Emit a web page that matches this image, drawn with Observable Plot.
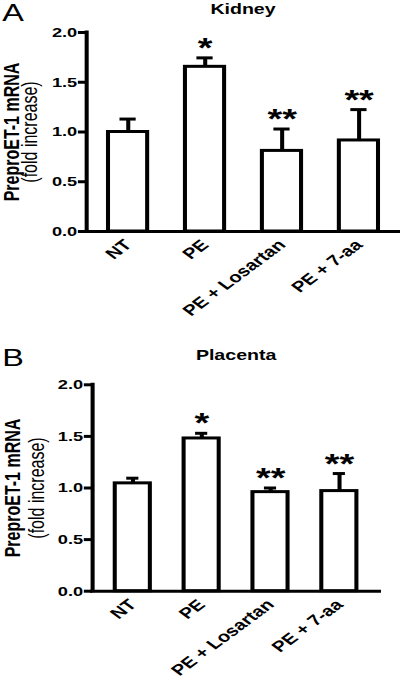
<!DOCTYPE html>
<html><head><meta charset="utf-8">
<script src="https://cdn.jsdelivr.net/npm/d3@7"></script>
<script src="https://cdn.jsdelivr.net/npm/@observablehq/plot@0.6"></script>
<style>
html,body{margin:0;padding:0;background:#fff;}
#chart{width:400px;}
#chart svg{display:block;}
</style></head><body><div id="chart"></div>
<script>
const groups = ["NT", "PE", "PE + Losartan", "PE + 7-aa"];
const kidneyMean = [1.00, 1.655, 0.81, 0.915];
const kidneySem = [0.13, 0.09, 0.22, 0.31];
const placentaMean = [1.045, 1.48, 0.96, 0.97];
const placentaSem = [0.05, 0.05, 0.04, 0.17];
const stars = ["", "*", "**", "**"];
const yTicks = [0, 0.5, 1.0, 1.5, 2.0];
const yTitle = "PreproET-1 mRNA";
const ySubtitle = "(fold increase)";

const FONT = "'Liberation Sans', Arial, Helvetica, sans-serif";
const K = 1.35;          // horizontal stretch of the original figure
const W = 400 / K;
const H = 340;

const panels = [
  {letter: "A", title: "Kidney", mean: kidneyMean, sem: kidneySem,
   ml: 63.7, mr: 1, mt: 32, mb: 109, po: 0.25,
   letterY: 20.7, titleY: 13.3, boldX: 13.5, regX: 27.2},
  {letter: "B", title: "Placenta", mean: placentaMean, sem: placentaSem,
   ml: 68.1, mr: 15.6, mt: 44.3, mb: 89.3, po: 0.3,
   letterY: 25, titleY: 19.3, boldX: 14.6, regX: 31.8}
];

const root = document.getElementById("chart");
for (const p of panels) {
  const data = groups.map((g, i) => ({group: g, mean: p.mean[i], upper: p.mean[i] + p.sem[i], star: stars[i]}));
  const frameW = W - p.ml - p.mr;
  const svg = Plot.plot({
    width: W, height: H,
    marginLeft: p.ml, marginRight: p.mr, marginTop: p.mt, marginBottom: p.mb,
    style: {fontFamily: FONT, color: "black", background: "white"},
    x: {domain: groups, paddingInner: 0.5, paddingOuter: p.po, axis: null},
    y: {domain: [0, 2], axis: null},
    marks: [
      Plot.ruleX(data, {x: "group", y1: "mean", y2: "upper", stroke: "black", strokeWidth: 3}),
      Plot.tickY(data, {x: "group", y: "upper", stroke: "black", strokeWidth: 3, insetLeft: 8.5, insetRight: 8.5}),
      Plot.barY(data, {x: "group", y: "mean", fill: "white", stroke: "black", strokeWidth: 3}),
      Plot.ruleY([0], {stroke: "black", strokeWidth: 3, strokeLinecap: "square"}),
      // y axis line at the left edge of the frame
      Plot.ruleX([0], {x: null, y1: 0, y2: 2, dx: -frameW / 2, stroke: "black", strokeWidth: 3, strokeLinecap: "square"}),
      Plot.axisY({ticks: yTicks, tickFormat: d3.format(".1f"), tickSize: 6, tickPadding: 1,
                  strokeWidth: 3, label: null, fontSize: 13.5, fontWeight: "bold"}),
      Plot.axisX({tickSize: 0, tickPadding: 11, tickRotate: -45, label: null,
                  fontSize: 15, fontWeight: "bold"}),
      Plot.text(data, {x: "group", y: "upper", text: "star", lineAnchor: "bottom", dy: -1,
                       fontSize: 28, fontWeight: "bold"}),
      Plot.text([p.title], {frameAnchor: "top", lineAnchor: "bottom", dy: p.titleY - p.mt,
                            fontSize: 14.5, fontWeight: "bold"}),
      Plot.text([p.letter], {frameAnchor: "top-left", textAnchor: "start", lineAnchor: "bottom",
                             dx: 1.2 - p.ml, dy: p.letterY - p.mt, fontSize: 24}),
      Plot.text([yTitle], {frameAnchor: "left", rotate: -90, textAnchor: "middle", lineAnchor: "bottom",
                           dx: p.boldX - p.ml, fontSize: 16, fontWeight: "bold"}),
      Plot.text([ySubtitle], {frameAnchor: "left", rotate: -90, textAnchor: "middle", lineAnchor: "bottom",
                              dx: p.regX - p.ml, fontSize: 16})
    ]
  });
  svg.setAttribute("viewBox", `0 0 ${W} ${H}`);
  svg.setAttribute("preserveAspectRatio", "none");
  svg.setAttribute("width", 400);
  svg.setAttribute("height", H);
  svg.style.width = "400px";
  svg.style.height = H + "px";
  svg.style.maxWidth = "none";
  root.appendChild(svg);
}
</script></body></html>
